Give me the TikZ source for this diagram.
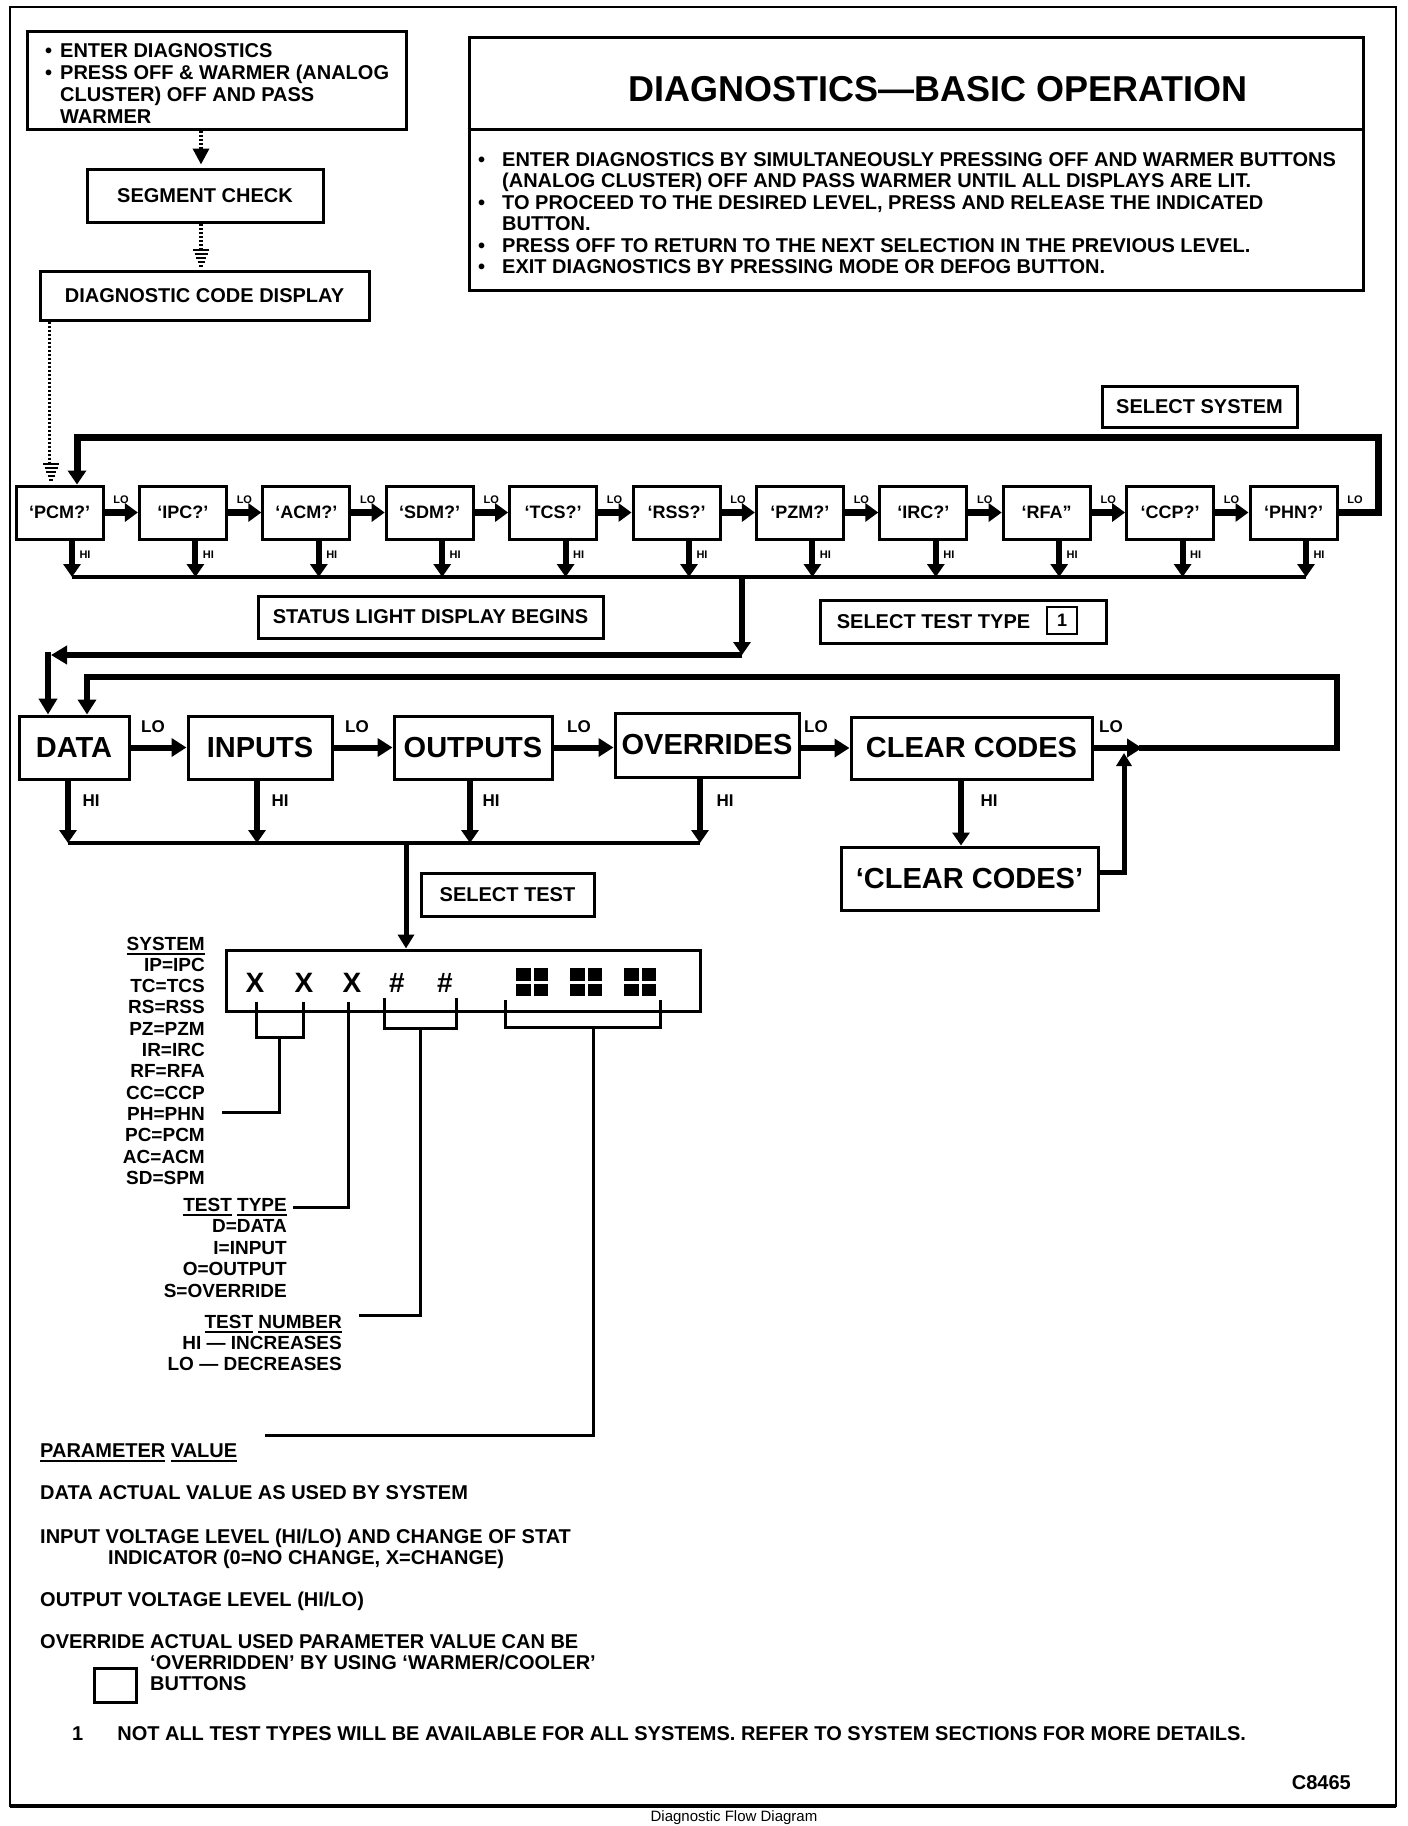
\documentclass[tikz,border=0pt]{standalone}
\usepackage{fontspec}
\setmainfont{Liberation Sans}
\usetikzlibrary{arrows.meta,calc}
\newcommand\myul[1]{\leavevmode\vtop{\hbox{#1}\kern2.5pt\hrule height 2.5pt}}
\newcommand\stackhead[2]{%
  \foreach \k/\w in {0/2,1/3.5,2/5,3/6.5,4/8}{%
    \draw[line width=2.2pt] ({#1-\w},{#2-2-4*\k}) -- ({#1+\w},{#2-2-4*\k});}}
\begin{document}
\begin{tikzpicture}[x=1pt,y=-1pt,
  bx/.style={draw, line width=3pt, inner sep=0pt, font=\bfseries\fontsize{20}{22}\selectfont},
  sys/.style={draw, line width=3pt, minimum width=87pt, minimum height=53pt, inner sep=0pt, font=\bfseries\fontsize{18}{20}\selectfont},
  big/.style={draw, line width=3pt, minimum height=63pt, inner sep=0pt, font=\bfseries\fontsize{29}{30}\selectfont},
  txt/.style={inner sep=0pt, font=\bfseries\fontsize{20}{22}\selectfont},
  lst/.style={inner sep=0pt, font=\bfseries\fontsize{19}{21.3}\selectfont},
  smlab/.style={inner sep=0pt, font=\bfseries\fontsize{11}{11}\selectfont},
  lbs/.style={inner sep=0pt, font=\bfseries\fontsize{17}{17}\selectfont},
  loar/.style={line width=7pt, -{Triangle[length=13pt,width=18pt]}},
  hiar/.style={line width=6pt, -{Triangle[length=13pt,width=17pt]}},
  bigar/.style={line width=6pt, -{Triangle[length=15pt,width=18pt]}},
  thk/.style={line width=6pt},
  busl/.style={line width=4pt},
  brk/.style={line width=3pt},
  dotl/.style={line width=3.5pt, dash pattern=on 2.5pt off 1.5pt},
]
\useasboundingbox (0,0) rectangle (1408,1826);
\fill[white] (0,0) rectangle (1408,1826);
% frame
\draw[line width=2pt] (10,7) rectangle (1396,1806);
\draw[line width=3.5pt] (10,1806) -- (1396,1806);

% top-left flow
\node[bx, minimum width=379pt, minimum height=98pt] (b1) at (216.5,80) {};
\node[inner sep=0pt, anchor=base west, font=\bfseries\fontsize{20}{22.3}\selectfont] (b1t) at (45,57)
  {\begin{tabular}[t]{@{}l@{\hspace{8pt}}l@{}}
   \textbullet & ENTER DIAGNOSTICS\\
   \textbullet & PRESS OFF \& WARMER (ANALOG\\
   & CLUSTER) OFF AND PASS\\
   & WARMER
   \end{tabular}};
\node[bx, minimum width=236pt, minimum height=53pt] (seg) at (205,195.5) {SEGMENT CHECK};
\node[bx, minimum width=329pt, minimum height=49pt] (diag) at (204.5,295.5) {DIAGNOSTIC CODE DISPLAY};
\coordinate (dx) at (201,0);
\draw[dotl, -{Triangle[length=16pt,width=16pt]}] (b1.south -| dx) -- ([yshift=3pt]seg.north -| dx);
\path ([yshift=21pt]diag.north) coordinate (d2e);
\draw[dotl] (seg.south -| dx) -- (d2e -| dx);
\stackhead{201}{268}

% title box
\node[bx, minimum width=894pt, minimum height=253pt] (tb) at (916,163.5) {};
\coordinate (tdiv) at (0,129);
\draw[line width=3pt] (tb.west |- tdiv) -- (tb.east |- tdiv);
\node[inner sep=0pt, font=\bfseries\fontsize{36}{40}\selectfont] (ttl) at (938,89) {DIAGNOSTICS—BASIC OPERATION};
\node[inner sep=0pt, anchor=base west, font=\bfseries\fontsize{20}{21.5}\selectfont] (tbt) at (478,166)
  {\begin{tabular}[t]{@{}l@{\hspace{17pt}}l@{}}
   \textbullet & ENTER DIAGNOSTICS BY SIMULTANEOUSLY PRESSING OFF AND WARMER BUTTONS\\
   & (ANALOG CLUSTER) OFF AND PASS WARMER UNTIL ALL DISPLAYS ARE LIT.\\
   \textbullet & TO PROCEED TO THE DESIRED LEVEL, PRESS AND RELEASE THE INDICATED\\
   & BUTTON.\\
   \textbullet & PRESS OFF TO RETURN TO THE NEXT SELECTION IN THE PREVIOUS LEVEL.\\
   \textbullet & EXIT DIAGNOSTICS BY PRESSING MODE OR DEFOG BUTTON.
   \end{tabular}};

% select system row
\node[bx, minimum width=195pt, minimum height=41pt] (ssys) at (1199.5,406.5) {SELECT SYSTEM};
\foreach \t [count=\i from 0] in {‘PCM?’,‘IPC?’,‘ACM?’,‘SDM?’,‘TCS?’,‘RSS?’,‘PZM?’,‘IRC?’,‘RFA”,‘CCP?’,‘PHN?’}
  {\node[sys] (s\i) at ({59.5+123.4*\i},512.5) {\t};}
\foreach \i in {0,...,9}{%
  \pgfmathtruncatemacro\j{\i+1}
  \draw[loar] (s\i.east) -- (s\j.west);}
\foreach \i in {0,...,10}{%
  \node[smlab] (lo\i) at ([xshift=16.5pt,yshift=13pt]s\i.east) {LO};}
\coordinate (busy) at (0,577);
\foreach \i in {0,...,10}{%
  \path ([xshift=12.5pt]s\i.south) coordinate (h\i);
  \draw[hiar] (h\i) -- (h\i |- busy);
  \node[smlab] (hi\i) at ([xshift=25.5pt,yshift=-14pt]s\i.south) {HI};}
\draw[busl] (h0 |- busy) -- (h10 |- busy);
\coordinate (lp1) at (1378,437);
\draw[line width=7pt, -{Triangle[length=14pt,width=18pt]}] (s10.east) -| (lp1) -| ([xshift=17.5pt]s0.north);
\draw[dotl] ([xshift=11pt]diag.south west) -- ([xshift=35pt,yshift=22pt]s0.north west);
\stackhead{51}{482}

\node[bx, minimum width=345pt, minimum height=42pt] (slb) at (430.5,617) {STATUS LIGHT DISPLAY BEGINS};
\node[bx, minimum width=286pt, minimum height=43pt] (sttb) at (963,621.5) {};
\node[txt] (sttt) at (933.5,621.5) {SELECT TEST TYPE};
\node[draw, line width=2.5pt, minimum width=30pt, minimum height=27pt, inner sep=0pt, font=\bfseries\fontsize{18}{18}\selectfont] (one) at (1062,620.5) {1};

% test type row
\node[big, minimum width=110pt] (dat) at (74,747.5) {DATA};
\node[big, minimum width=144pt] (inp) at (260,747.5) {INPUTS};
\node[big, minimum width=158pt] (outp) at (473,747.5) {OUTPUTS};
\node[big, minimum width=184pt, minimum height=64pt] (ovr) at (707,745) {OVERRIDES};
\node[big, minimum width=241pt, minimum height=62pt] (clr) at (971.5,748) {CLEAR CODES};
\node[big, minimum width=257pt] (clr2) at (969.5,878.5) {‘CLEAR CODES’};

\coordinate (c0) at (742,577);
\coordinate (c1) at (742,655);
\coordinate (c2) at (48,655);
\draw[hiar] (c0) -- (c1);
\draw[thk, -{Triangle[length=16pt,width=18pt]}] (c1) -- ([xshift=3pt]c2);
\draw[thk, -{Triangle[length=16pt,width=18pt]}] ([yshift=3pt]c2) -- ([xshift=-26pt]dat.north);

\draw[bigar] (dat.east) -- (inp.west);
\draw[bigar] (inp.east) -- (outp.west);
\draw[bigar] (outp.east) -- (outp.east -| ovr.west);
\draw[bigar] (ovr.east |- clr.west) -- (clr.west);
\coordinate (j2) at (1142,748);
\draw[bigar] (clr.east) -- (j2);
\coordinate (lp2) at (1337,677);
\draw[thk, -{Triangle[length=15pt,width=18pt]}] ([xshift=-3pt]j2) -| (lp2) -| ([xshift=13pt]dat.north);
\coordinate (j1) at (1124,748);
\draw[line width=5pt, -{Triangle[length=13pt,width=15pt]}] ([yshift=6pt]clr2.east) -| ([yshift=-5pt]j1);

\node[lbs] (l1) at (153,727) {LO};
\node[lbs] (l2) at (357,727) {LO};
\node[lbs] (l3) at (579,727) {LO};
\node[lbs] (l4) at (816,727) {LO};
\node[lbs] (l5) at (1111,727) {LO};

\coordinate (bus2) at (0,843);
\path ([xshift=-6pt]dat.south) coordinate (hd1);
\path ([xshift=-3pt]inp.south) coordinate (hd2);
\path ([xshift=-3pt]outp.south) coordinate (hd3);
\path ([xshift=-7pt]ovr.south) coordinate (hd4);
\foreach \i in {1,...,4}{\draw[hiar] (hd\i) -- (hd\i |- bus2);}
\draw[busl] (hd1 |- bus2) -- (hd4 |- bus2);
\node[lbs] (m1) at (91,801) {HI};
\node[lbs] (m2) at (280,801) {HI};
\node[lbs] (m3) at (491,801) {HI};
\node[lbs] (m4) at (725,801) {HI};
\node[lbs] (m5) at (989,801) {HI};
\path ([xshift=-10.5pt]clr.south) coordinate (cs);
\draw[hiar] (cs) -- (cs |- clr2.north);

\node[bx, minimum width=173pt, minimum height=43pt] (stest) at (507.5,894.5) {SELECT TEST};

% display
\node[draw, line width=3pt, minimum width=474pt, minimum height=61pt, inner sep=0pt] (disp) at (463.5,980.5) {};
\path ([xshift=-57.5pt]disp.north) coordinate (dtop);
\draw[line width=5pt, -{Triangle[length=14pt,width=16pt]}] (dtop |- bus2) -- (dtop);
\begin{scope}[every node/.style={inner sep=0pt, font=\bfseries\fontsize{28}{28}\selectfont}]
\node (dx1) at (255,983) {X};
\node (dx2) at (304,983) {X};
\node (dx3) at (352,983) {X};
\node (dh1) at (397,983) {\#};
\node (dh2) at (445,983) {\#};
\end{scope}
\foreach \cx in {532,586,640}{%
  \fill ({\cx-16},968) rectangle ({\cx-1.5},980.5);
  \fill ({\cx+1.5},968) rectangle ({\cx+16},980.5);
  \fill ({\cx-16},983.5) rectangle ({\cx-1.5},996);
  \fill ({\cx+1.5},983.5) rectangle ({\cx+16},996);}

% brackets and leaders
\draw[brk] (256,1002) -- (256,1037) -- (303,1037) -- (303,1002);
\draw[brk] (279.5,1037) -- (279.5,1112) -- (222,1112);
\draw[brk] (348,1002) -- (348,1207) -- (293,1207);
\draw[brk] (384,998) -- (384,1028) -- (456,1028) -- (456,998);
\draw[brk] (420,1028) -- (420,1315) -- (359,1315);
\draw[brk] (505,1000) -- (505,1027) -- (660,1027) -- (660,1000);
\draw[brk] (593,1027) -- (593,1435) -- (265,1435);

% legends
\node[lst, anchor=base east] (sysl) at (205,950)
  {\begin{tabular}[t]{@{}r@{}}
   \myul{SYSTEM}\\ IP=IPC\\ TC=TCS\\ RS=RSS\\ PZ=PZM\\ IR=IRC\\ RF=RFA\\ CC=CCP\\ PH=PHN\\ PC=PCM\\ AC=ACM\\ SD=SPM
   \end{tabular}};
\node[inner sep=0pt, anchor=base east, font=\bfseries\fontsize{19}{21.5}\selectfont] (ttyp) at (287,1211)
  {\begin{tabular}[t]{@{}r@{}}
   \myul{TEST} \myul{TYPE}\\ D=DATA\\ I=INPUT\\ O=OUTPUT\\ S=OVERRIDE
   \end{tabular}};
\node[inner sep=0pt, anchor=base east, font=\bfseries\fontsize{19}{21}\selectfont] (tnum) at (342,1328)
  {\begin{tabular}[t]{@{}r@{}}
   \myul{TEST} \myul{NUMBER}\\ HI — INCREASES\\ LO — DECREASES
   \end{tabular}};

\node[txt, anchor=base west] (pv) at (40,1457) {\myul{PARAMETER} \myul{VALUE}};
\node[txt, anchor=base west] (pv1) at (40,1499) {DATA ACTUAL VALUE AS USED BY SYSTEM};
\node[txt, anchor=base west] (pv2) at (40,1543) {INPUT VOLTAGE LEVEL (HI/LO) AND CHANGE OF STAT};
\node[txt, anchor=base west] (pv2b) at (108,1564) {INDICATOR (0=NO CHANGE, X=CHANGE)};
\node[txt, anchor=base west] (pv3) at (40,1606) {OUTPUT VOLTAGE LEVEL (HI/LO)};
\node[txt, anchor=base west] (pv4) at (40,1648) {OVERRIDE ACTUAL USED PARAMETER VALUE CAN BE};
\node[txt, anchor=base west] (pv4b) at (150,1669) {‘OVERRIDDEN’ BY USING ‘WARMER/COOLER’};
\node[txt, anchor=base west] (pv4c) at (150,1690) {BUTTONS};
\node[draw, line width=3pt, minimum width=42pt, minimum height=34pt, inner sep=0pt] (sq) at (115,1685) {};
\node[txt, anchor=base west] (fn) at (72,1740) {1\hspace{34pt}NOT ALL TEST TYPES WILL BE AVAILABLE FOR ALL SYSTEMS. REFER TO SYSTEM SECTIONS FOR MORE DETAILS.};
\node[txt, anchor=base east] (code) at (1351,1789) {C8465};
\node[inner sep=0pt, anchor=base, font=\fontsize{15}{15}\selectfont] (cap) at (734,1821.5) {Diagnostic Flow Diagram};
\end{tikzpicture}
\end{document}
